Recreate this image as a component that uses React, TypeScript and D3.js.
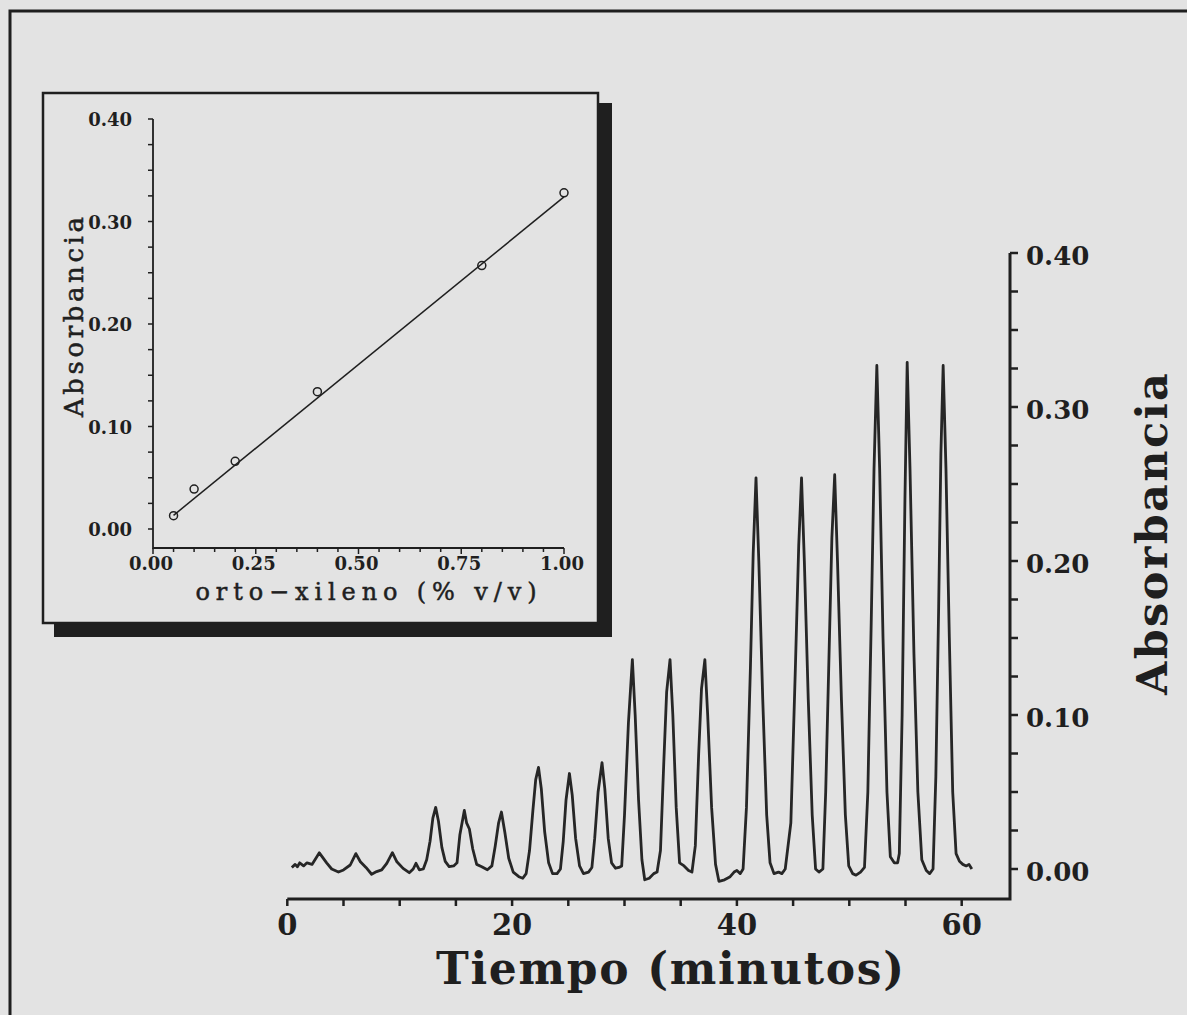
import React from "react";
import * as d3 from "d3";

const WIDTH = 1187;
const HEIGHT = 1015;

// Calibration inset: ortho-xylene concentration (% v/v) vs absorbance
const CAL_CONC = [0.05, 0.1, 0.2, 0.4, 0.8, 1.0];
const CAL_ABS = [0.013, 0.039, 0.066, 0.134, 0.257, 0.328];
const FIT_SLOPE = 0.327;
const FIT_INTERCEPT = -0.003;
const FIT_RANGE = [0.05, 1.0];
const CAL_X_TICKS = [0, 0.25, 0.5, 0.75, 1.0];
const CAL_Y_TICKS = [0, 0.1, 0.2, 0.3, 0.4];

// Main trace: time (min) vs absorbance
const TIME_TICKS = [0, 20, 40, 60];
const ABS_TICKS = [0, 0.1, 0.2, 0.3, 0.4];

const CHROMATOGRAM: [number, number][] = [
  [0.4, 0.001], [0.7, 0.003], [0.9, 0.0015], [1.1, 0.004], [1.45, 0.002], [1.75, 0.004],
  [2.2, 0.003], [2.85, 0.0105], [3.5, 0.004], [3.95, 0.0], [4.55, -0.002], [5.0, -0.0006],
  [5.6, 0.0026], [6.1, 0.01], [6.5, 0.0047], [7.0, 0.001], [7.5, -0.0034], [7.95, -0.0017],
  [8.4, -0.0006], [8.85, 0.0037], [9.35, 0.0106], [9.75, 0.0047], [10.3, 0.0004],
  [10.85, -0.0024], [11.2, 0.0], [11.45, 0.0037], [11.75, -0.0006], [12.1, 0.0],
  [12.4, 0.006], [12.7, 0.018], [12.95, 0.033], [13.2, 0.04], [13.45, 0.031], [13.75, 0.014],
  [14.05, 0.005], [14.4, 0.0015], [14.8, 0.002], [15.1, 0.004],
  [15.35, 0.022], [15.75, 0.038], [15.95, 0.03], [16.2, 0.026], [16.5, 0.013], [16.85, 0.003],
  [17.3, 0.0015], [17.8, -0.0005], [18.2, 0.002],
  [18.5, 0.015], [18.8, 0.03], [19.05, 0.037], [19.35, 0.024], [19.7, 0.007], [20.1, -0.002],
  [20.6, -0.005], [20.95, -0.006], [21.25, -0.003],
  [21.55, 0.012], [21.85, 0.038], [22.1, 0.058], [22.35, 0.066], [22.6, 0.052], [22.9, 0.024],
  [23.25, 0.004], [23.6, -0.003], [24.0, -0.003], [24.3, 0.0],
  [24.55, 0.018], [24.8, 0.045], [25.1, 0.062], [25.35, 0.048], [25.65, 0.02], [26.0, 0.002],
  [26.35, -0.003], [26.8, -0.002], [27.1, 0.001],
  [27.35, 0.02], [27.65, 0.05], [28.0, 0.069], [28.25, 0.052], [28.55, 0.02], [28.85, 0.004],
  [29.2, 0.0005], [29.5, 0.001], [29.75, 0.002],
  [30.0, 0.035], [30.35, 0.095], [30.7, 0.136], [30.95, 0.1], [31.25, 0.045], [31.55, 0.006],
  [31.8, -0.007], [32.2, -0.006], [32.6, -0.003], [32.9, -0.002],
  [33.2, 0.012], [33.5, 0.07], [33.75, 0.115], [34.05, 0.136], [34.3, 0.1], [34.6, 0.04],
  [34.9, 0.004], [35.3, 0.002], [35.7, -0.001], [36.0, -0.002],
  [36.3, 0.015], [36.6, 0.075], [36.85, 0.117], [37.15, 0.136], [37.4, 0.1], [37.75, 0.04],
  [38.1, 0.003], [38.4, -0.008], [38.9, -0.007], [39.4, -0.005], [39.75, -0.002], [40.0, -0.001],
  [40.3, -0.003], [40.55, 0.0],
  [40.85, 0.04], [41.2, 0.13], [41.45, 0.205], [41.7, 0.254], [41.95, 0.2], [42.3, 0.11],
  [42.65, 0.035], [42.95, 0.004], [43.3, -0.003], [43.7, -0.002], [44.0, -0.003], [44.3, 0.0],
  [44.8, 0.03], [45.2, 0.13], [45.5, 0.21], [45.75, 0.254], [46.0, 0.2], [46.35, 0.11],
  [46.7, 0.035], [47.0, 0.0], [47.3, -0.002], [47.65, 0.0],
  [47.9, 0.05], [48.2, 0.14], [48.45, 0.215], [48.7, 0.256], [48.95, 0.2], [49.3, 0.11],
  [49.65, 0.035], [49.95, 0.002], [50.3, -0.003], [50.6, -0.004], [51.0, -0.002], [51.35, 0.001],
  [51.65, 0.05], [51.95, 0.16], [52.2, 0.26], [52.45, 0.327], [52.7, 0.26], [53.0, 0.15],
  [53.35, 0.05], [53.65, 0.008], [54.0, 0.004], [54.3, 0.004], [54.45, 0.01],
  [54.7, 0.1], [54.95, 0.24], [55.15, 0.329], [55.4, 0.26], [55.75, 0.14], [56.1, 0.05],
  [56.45, 0.006], [56.85, -0.001], [57.15, -0.003], [57.45, 0.0],
  [57.7, 0.06], [57.95, 0.17], [58.15, 0.27], [58.35, 0.327], [58.6, 0.26], [58.9, 0.15],
  [59.2, 0.05], [59.5, 0.01], [59.8, 0.005], [60.1, 0.003], [60.4, 0.002], [60.65, 0.003],
  [60.9, 0.0],
];

const INK = "#1f1f1f";
const PAPER = "#e3e3e3";
const FONT = "'DejaVu Serif', serif";

export default function App() {
  // main chart scales
  const x = d3.scaleLinear().domain([0, 60]).range([287.3, 961.7]);
  const y = d3.scaleLinear().domain([0, 0.4]).range([869, 253]);
  const axisY = 899;
  const axisX = 1010;

  // inset scales
  const xi = d3.scaleLinear().domain([0, 1]).range([153, 564]);
  const yi = d3.scaleLinear().domain([0, 0.4]).range([529, 119]);
  const insetAxisY = 548;

  const fmt = d3.format(".2f");
  const trace = d3
    .line<[number, number]>()
    .x((d) => x(d[0]))
    .y((d) => y(d[1]))
    .curve(d3.curveLinear)(CHROMATOGRAM);

  const timeMinor = d3.range(0, 60.01, 5);
  const absMinor = d3.range(0, 0.4001, 0.025);
  const calXMinor = d3.range(0, 1.0001, 0.05);
  const calYMinor = d3.range(0, 0.4001, 0.025);

  return (
    <svg
      width={WIDTH}
      height={HEIGHT}
      viewBox={`0 0 ${WIDTH} ${HEIGHT}`}
      style={{ position: "absolute", left: 0, top: 0, display: "block" }}
    >
      <rect x={0} y={0} width={WIDTH} height={HEIGHT} fill={PAPER} />

      {/* outer frame */}
      <path d={`M10,${HEIGHT} L10,11 L${WIDTH},11`} fill="none" stroke={INK} strokeWidth={3} />

      {/* ---------- main chromatogram ---------- */}
      <g>
        <path
          d={`M${x(0)},${axisY} L${axisX},${axisY} L${axisX},${y(0.4)}`}
          fill="none"
          stroke={INK}
          strokeWidth={3}
        />
        {timeMinor.map((t) => (
          <line key={`tx${t}`} x1={x(t)} x2={x(t)} y1={axisY} y2={axisY + 7} stroke={INK} strokeWidth={2.5} />
        ))}
        {absMinor.map((v) => (
          <line key={`ty${v}`} x1={axisX} x2={axisX + 8} y1={y(v)} y2={y(v)} stroke={INK} strokeWidth={2.5} />
        ))}
        {TIME_TICKS.map((t) => (
          <text
            key={`lx${t}`}
            x={x(t)}
            y={935}
            textAnchor="middle"
            fontFamily={FONT}
            fontWeight="bold"
            fontSize={29}
            fill={INK}
          >
            {t}
          </text>
        ))}
        {ABS_TICKS.map((v) => (
          <text
            key={`ly${v}`}
            x={1026}
            y={y(v) + 12}
            fontFamily={FONT}
            fontWeight="bold"
            fontSize={26}
            fill={INK}
          >
            {fmt(v)}
          </text>
        ))}
        <text
          x={670}
          y={984}
          textAnchor="middle"
          fontFamily={FONT}
          fontWeight="bold"
          fontSize={44}
          textLength={468}
          lengthAdjust="spacing"
          fill={INK}
        >
          Tiempo (minutos)
        </text>
        <text
          transform={`translate(1167,534) rotate(-90)`}
          textAnchor="middle"
          fontFamily={FONT}
          fontWeight="bold"
          fontSize={43}
          textLength={322}
          lengthAdjust="spacing"
          fill={INK}
        >
          Absorbancia
        </text>
        <path d={trace ?? ""} fill="none" stroke="#262626" strokeWidth={2.8} strokeLinejoin="round" />
      </g>

      {/* ---------- calibration inset ---------- */}
      <g>
        <rect x={598} y={103} width={14} height={534} fill={INK} />
        <rect x={54} y={623} width={558} height={14} fill={INK} />
        <rect x={43} y={93} width={555} height={530} fill={PAPER} stroke={INK} strokeWidth={2.5} />

        <path
          d={`M${xi(0)},${yi(0.4)} L${xi(0)},${insetAxisY} L${xi(1)},${insetAxisY}`}
          fill="none"
          stroke={INK}
          strokeWidth={1.8}
        />
        {calYMinor.map((v) => (
          <line key={`cy${v}`} x1={xi(0) - 5} x2={xi(0)} y1={yi(v)} y2={yi(v)} stroke={INK} strokeWidth={1.5} />
        ))}
        {calXMinor.map((c) => (
          <line
            key={`cx${c}`}
            x1={xi(c)}
            x2={xi(c)}
            y1={insetAxisY}
            y2={insetAxisY + (Math.abs((c * 4) % 1) < 1e-6 ? 6 : 4)}
            stroke={INK}
            strokeWidth={1.5}
          />
        ))}
        {CAL_Y_TICKS.map((v) => (
          <text
            key={`cly${v}`}
            x={132}
            y={yi(v) + 7}
            textAnchor="end"
            fontFamily={FONT}
            fontWeight="bold"
            fontSize={18}
            fill={INK}
          >
            {fmt(v)}
          </text>
        ))}
        {CAL_X_TICKS.map((c) => (
          <text
            key={`clx${c}`}
            x={xi(c) - 2}
            y={570}
            textAnchor="middle"
            fontFamily={FONT}
            fontWeight="bold"
            fontSize={18}
            fill={INK}
          >
            {fmt(c)}
          </text>
        ))}
        <text
          x={366}
          y={600}
          textAnchor="middle"
          fontFamily={FONT}
          fontSize={24}
          textLength={341}
          lengthAdjust="spacing"
          stroke={INK}
          strokeWidth={0.5}
          fill={INK}
        >
          orto−xileno (% v/v)
        </text>
        <text
          transform={`translate(83,317) rotate(-90)`}
          textAnchor="middle"
          fontFamily={FONT}
          fontSize={26}
          textLength={200}
          lengthAdjust="spacing"
          stroke={INK}
          strokeWidth={0.5}
          fill={INK}
        >
          Absorbancia
        </text>

        <line
          x1={xi(FIT_RANGE[0])}
          y1={yi(FIT_INTERCEPT + FIT_SLOPE * FIT_RANGE[0])}
          x2={xi(FIT_RANGE[1])}
          y2={yi(FIT_INTERCEPT + FIT_SLOPE * FIT_RANGE[1])}
          stroke={INK}
          strokeWidth={1.5}
        />
        {CAL_CONC.map((c, i) => (
          <circle key={`pt${i}`} cx={xi(c)} cy={yi(CAL_ABS[i])} r={4} fill="none" stroke={INK} strokeWidth={1.5} />
        ))}
      </g>
    </svg>
  );
}
